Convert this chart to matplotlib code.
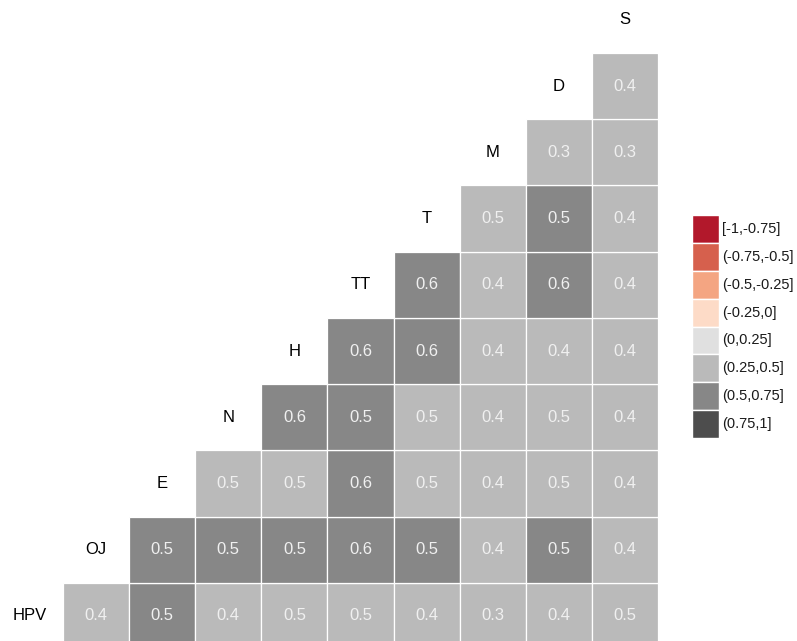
import numpy as np
import matplotlib
matplotlib.use("Agg")
import matplotlib.pyplot as plt
from matplotlib.patches import Rectangle

plt.rcParams["font.family"] = ["Liberation Sans", "DejaVu Sans"]

# variables, in the order of the diagonal (bottom-left to top-right)
variables = ["HPV", "OJ", "E", "N", "H", "TT", "T", "M", "D", "S"]

# lower triangle: row r holds correlations of variables[r] with variables[r+1:]
rho_HPV = [0.40, 0.52, 0.40, 0.48, 0.48, 0.40, 0.30, 0.40, 0.48]
rho_OJ = [0.52, 0.52, 0.52, 0.60, 0.52, 0.40, 0.52, 0.40]
rho_E = [0.48, 0.48, 0.60, 0.48, 0.40, 0.48, 0.40]
rho_N = [0.60, 0.52, 0.48, 0.40, 0.48, 0.40]
rho_H = [0.60, 0.60, 0.40, 0.40, 0.40]
rho_TT = [0.60, 0.40, 0.60, 0.40]
rho_T = [0.48, 0.52, 0.40]
rho_M = [0.30, 0.30]
rho_D = [0.40]
rows = [rho_HPV, rho_OJ, rho_E, rho_N, rho_H, rho_TT, rho_T, rho_M, rho_D]

# binned scale (RdGy, 8 classes)
breaks = [-1, -0.75, -0.5, -0.25, 0, 0.25, 0.5, 0.75, 1]
bin_labels = ["[-1,-0.75]", "(-0.75,-0.5]", "(-0.5,-0.25]", "(-0.25,0]",
              "(0,0.25]", "(0.25,0.5]", "(0.5,0.75]", "(0.75,1]"]
bin_colors = ["#B2182B", "#D6604D", "#F4A582", "#FDDBC7",
              "#E0E0E0", "#BABABA", "#878787", "#4D4D4D"]


def bin_of(v):
    i = int(np.searchsorted(breaks, v, side="left")) - 1
    return min(max(i, 0), len(bin_colors) - 1)


W, H = 797, 641
fig = plt.figure(figsize=(W / 100, H / 100), dpi=100)

# main tile axes, placed in pixel terms
x0, x1 = 63, 658      # data 0.5 .. 9.5
y_top, y_bot = 53, 649  # data 8.5 .. -0.5
ax = fig.add_axes([x0 / W, (H - y_bot) / H, (x1 - x0) / W, (y_bot - y_top) / H])
ax.set_xlim(0.5, 9.5)
ax.set_ylim(-0.5, 8.5)
ax.axis("off")

for r, vals in enumerate(rows):
    for k, v in enumerate(vals):
        c = r + 1 + k
        ax.add_patch(Rectangle((c - 0.5, r - 0.5), 1, 1,
                               facecolor=bin_colors[bin_of(v)],
                               edgecolor="white", linewidth=0.9))
        ax.text(c, r, f"{v:.1f}", ha="center", va="center",
                color="#F0F0F0", fontsize=12)

# variable names on the diagonal
for i, name in enumerate(variables):
    ax.text(i, i, name, ha="center", va="center", color="black",
            fontsize=12, clip_on=False)

# legend
lx0, lx1 = 692, 719
ly0, ly1 = 215, 438
lax = fig.add_axes([lx0 / W, (H - ly1) / H, (lx1 - lx0) / W, (ly1 - ly0) / H])
lax.set_xlim(0, 1)
lax.set_ylim(len(bin_colors), 0)
lax.axis("off")
for i, (lab, col) in enumerate(zip(bin_labels, bin_colors)):
    lax.add_patch(Rectangle((0, i), 1, 1, facecolor=col,
                            edgecolor="white", linewidth=1.0))
    lax.text(1.12, i + 0.5, lab, ha="left", va="center", fontsize=10.5,
             color="#1A1A1A", clip_on=False)

fig.savefig("out.png", dpi=100)
